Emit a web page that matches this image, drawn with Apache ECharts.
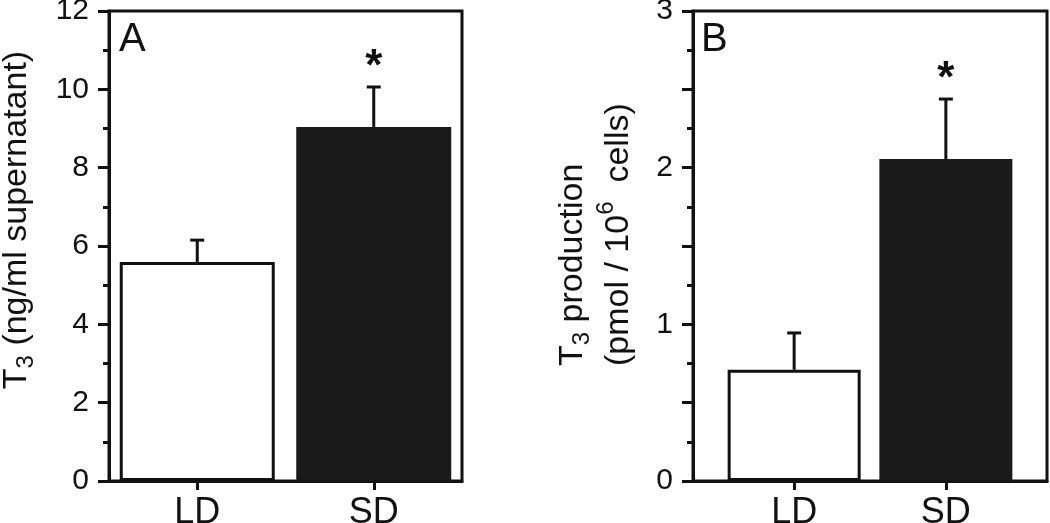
<!DOCTYPE html>
<html>
<head>
<meta charset="utf-8">
<script src="https://cdn.jsdelivr.net/npm/echarts@6/dist/echarts.min.js"></script>
<style>
  html, body { margin: 0; padding: 0; background: #fff; }
  #chart { width: 1050px; height: 523px; }
</style>
</head>
<body>
<div id="chart"></div>
<script>
const categories = ['LD', 'SD']
const positions = [1, 2]
const significant = [false, true]

// panel A: T3 (ng/ml supernatant)
const meansA = [5.59, 9.04]
const errorsA = [0.56, 1.02]

// panel B: T3 production (pmol / 10^6 cells)
const meansB = [0.71, 2.055]
const errorsB = [0.235, 0.383]

const barStyles = [
  { color: '#ffffff', borderColor: '#111', borderWidth: 3 },
  { color: '#1a1a1a', borderColor: '#1a1a1a', borderWidth: 0 }
]

const FONT = '"Liberation Sans", Arial, Helvetica, sans-serif'
const INK = '#111'

const chart = echarts.init(document.getElementById('chart'), null, { renderer: 'canvas' })

function barData(means) {
  return means.map((v, i) => ({ value: [positions[i], v], itemStyle: barStyles[i] }))
}

function errData(means, errs) {
  return means.map((v, i) => [positions[i], v, errs[i], significant[i] ? 1 : 0])
}

function renderError(params, api) {
  const x = api.value(0)
  const m = api.value(1)
  const e = api.value(2)
  const base = api.coord([x, m])
  const top = api.coord([x, m + e])
  const children = [
    { type: 'line', shape: { x1: base[0], y1: base[1], x2: top[0], y2: top[1] }, style: { stroke: INK, lineWidth: 3 } },
    { type: 'line', shape: { x1: top[0] - 7, y1: top[1], x2: top[0] + 7, y2: top[1] }, style: { stroke: INK, lineWidth: 3 } }
  ]
  if (api.value(3)) {
    children.push({
      type: 'text',
      style: { text: '*', x: top[0], y: top[1] - 19, fill: INK, font: 'bold 44px ' + FONT, align: 'center', verticalAlign: 'middle' }
    })
  }
  return { type: 'group', children }
}

function xAxisFor(gridIndex, min, max) {
  return {
    type: 'value', gridIndex, min, max,
    axisLine: { show: true, lineStyle: { color: INK, width: 3 } },
    axisTick: { show: true, customValues: positions, length: 9, lineStyle: { color: INK, width: 3 } },
    axisLabel: {
      customValues: positions, margin: 14, color: INK, fontSize: 36, fontFamily: FONT,
      formatter: v => categories[positions.indexOf(v)] || ''
    },
    splitLine: { show: false }
  }
}

function yAxisFor(gridIndex, max, interval, labelEvery) {
  return {
    type: 'value', gridIndex, min: 0, max, interval,
    axisLine: { show: true, lineStyle: { color: INK, width: 3 } },
    axisTick: { show: true, length: 11, lineStyle: { color: INK, width: 3 } },
    minorTick: { show: true, splitNumber: 2, length: 6, lineStyle: { color: INK, width: 3 } },
    axisLabel: {
      margin: 20, color: INK, fontSize: 30, fontFamily: FONT,
      formatter: v => (Math.abs(v / labelEvery - Math.round(v / labelEvery)) < 1e-6 ? String(v) : '')
    },
    splitLine: { show: false },
    minorSplitLine: { show: false }
  }
}

const titleRich = {
  n: { fontSize: 34, fontFamily: FONT, color: INK, lineHeight: 42 },
  sub: { fontSize: 24, fontFamily: FONT, color: INK, verticalAlign: 'bottom', lineHeight: 34 },
  sup: { fontSize: 24, fontFamily: FONT, color: INK, verticalAlign: 'top', lineHeight: 50 }
}

const option = {
  animation: false,
  backgroundColor: '#fff',
  grid: [
    { left: 109, top: 11, width: 353, height: 470, show: true, borderColor: INK, borderWidth: 3, backgroundColor: 'transparent', containLabel: false, outerBoundsMode: 'none' },
    { left: 693, top: 11, width: 354, height: 470, show: true, borderColor: INK, borderWidth: 3, backgroundColor: 'transparent', containLabel: false, outerBoundsMode: 'none' }
  ],
  xAxis: [xAxisFor(0, 0.5, 2.5), xAxisFor(1, 1 / 3, 8 / 3)],
  yAxis: [yAxisFor(0, 12, 2, 2), yAxisFor(1, 3, 0.5, 1)],
  series: [
    { type: 'bar', xAxisIndex: 0, yAxisIndex: 0, barWidth: 155, data: barData(meansA), z: 2 },
    { type: 'custom', xAxisIndex: 0, yAxisIndex: 0, renderItem: renderError, data: errData(meansA, errorsA), z: 3 },
    { type: 'bar', xAxisIndex: 1, yAxisIndex: 1, barWidth: 133, data: barData(meansB), z: 2 },
    { type: 'custom', xAxisIndex: 1, yAxisIndex: 1, renderItem: renderError, data: errData(meansB, errorsB), z: 3 }
  ],
  graphic: [
    { type: 'text', x: 119, y: 20, style: { text: 'A', font: '40px ' + FONT, fill: INK, align: 'left', verticalAlign: 'top' } },
    { type: 'text', x: 701, y: 20, style: { text: 'B', font: '40px ' + FONT, fill: INK, align: 'left', verticalAlign: 'top' } },
    {
      type: 'text', x: 17, y: 220, rotation: Math.PI / 2,
      style: { text: '{n|T}{sub|3}{n| (ng/ml supernatant)}', rich: titleRich, align: 'center', verticalAlign: 'middle', fill: INK }
    },
    {
      type: 'text', x: 598, y: 366, rotation: Math.PI / 2,
      style: {
        text: '{n|T}{sub|3}{n| production}\n{n|(pmol / 10}{sup|6}{n|  cells)}',
        rich: titleRich, align: 'left', verticalAlign: 'middle', fill: INK
      }
    }
  ]
}

chart.setOption(option)
</script>
</body>
</html>
